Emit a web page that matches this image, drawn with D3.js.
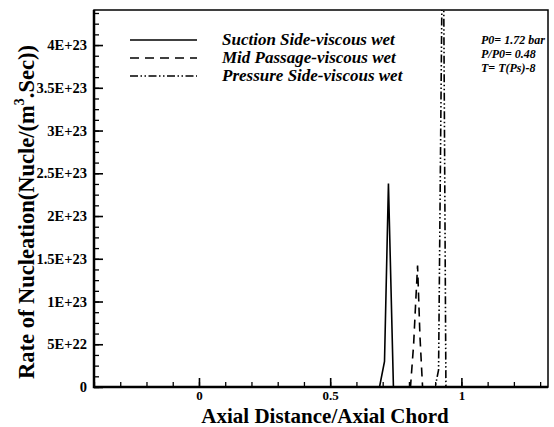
<!DOCTYPE html>
<html><head><meta charset="utf-8">
<script src="https://cdn.jsdelivr.net/npm/d3@7"></script>
<style>body{margin:0;background:#fff}svg{display:block}</style>
</head><body>
<svg id="c" width="554" height="427"></svg>
<script>
// Data (x = axial distance / axial chord, y = nucleation rate)
const suctionX = [-0.4, 0.688, 0.707, 0.722, 0.741, 1.33];
const suctionY = [0, 0, 3.0e22, 2.38e23, 0, 0];
const midX = [-0.4, 0.806, 0.818, 0.826, 0.833, 0.842, 0.852, 1.33];
const midY = [0, 0, 5e22, 1.0e23, 1.42e23, 6e22, 0, 0];
const pressX = [-0.4, 0.900, 0.913, 0.930, 0.941, 1.33];
const pressY = [0, 0, 2.0e22, 6.0e23, 0, 0];
const seriesNames = ["Suction Side-viscous wet", "Mid Passage-viscous wet", "Pressure Side-viscous wet"];
const xTickVals = [0, 0.5, 1];
const xTickLabels = ["0", "0.5", "1"];
const yTickVals = [0, 5e22, 1e23, 1.5e23, 2e23, 2.5e23, 3e23, 3.5e23, 4e23];
const yTickLabels = ["0", "5E+22", "1E+23", "1.5E+23", "2E+23", "2.5E+23", "3E+23", "3.5E+23", "4E+23"];
const notes = ["P0= 1.72 bar", "P/P0= 0.48", "T= T(Ps)-8"];

const L = 94, R = 548, T = 10, B = 387;
const svg = d3.select("#c");
const x = d3.scaleLinear().domain([-0.4, 1.33]).range([L, R]);
const y = d3.scaleLinear().domain([0, 4.41e23]).range([B, T]);
const font = "'Liberation Serif', 'Times New Roman', serif";

svg.append("clipPath").attr("id", "clip").append("rect")
  .attr("x", L).attr("y", T).attr("width", R - L).attr("height", B - T);

const dashes = [null, "9,6", "8,2.5,1.5,2.5,1.5,2.5"];
const series = [[suctionX, suctionY], [midX, midY], [pressX, pressY]];
const line = d3.line().x(d => x(d[0])).y(d => y(d[1]));
const g = svg.append("g").attr("clip-path", "url(#clip)");
series.forEach((s, i) => {
  const pts = s[0].map((v, k) => [v, s[1][k]]);
  g.append("path").attr("d", line(pts)).attr("fill", "none")
    .attr("stroke", "#000").attr("stroke-width", 1.6)
    .attr("stroke-dasharray", dashes[i]);
});

// axes
const xMinor = d3.range(-4, 14).map(v => v / 10);
svg.append("g").attr("transform", `translate(0,${B})`)
  .call(d3.axisBottom(x).tickValues(xMinor).tickSize(-5).tickFormat(""))
  .call(a => a.select(".domain").remove())
  .call(a => a.selectAll("line").attr("stroke-width", 1.3));
const xa = svg.append("g").attr("transform", `translate(0,${B})`)
  .call(d3.axisBottom(x).tickValues(xTickVals).tickSize(-9).tickPadding(4)
    .tickFormat((d, i) => xTickLabels[i]));
xa.select(".domain").remove();
xa.selectAll("line").attr("stroke-width", 1.6);
xa.selectAll("text").style("font-family", font).style("font-weight", "bold")
  .style("font-size", "13px").attr("fill", "#000");

const yMinor = d3.range(0, 36).map(v => v * 1.25e22);
svg.append("g").attr("transform", `translate(${L},0)`)
  .call(d3.axisLeft(y).tickValues(yMinor).tickSize(-5).tickFormat(""))
  .call(a => a.select(".domain").remove())
  .call(a => a.selectAll("line").attr("stroke-width", 1.3));
const ya = svg.append("g").attr("transform", `translate(${L},0)`)
  .call(d3.axisLeft(y).tickValues(yTickVals).tickSize(-9).tickPadding(7)
    .tickFormat((d, i) => yTickLabels[i]));
ya.select(".domain").remove();
ya.selectAll("line").attr("stroke-width", 1.6);
ya.selectAll("text").style("font-family", font).style("font-weight", "bold")
  .style("font-size", "14.5px").attr("fill", "#000");

// frame
svg.append("rect").attr("x", L).attr("y", T).attr("width", R - L).attr("height", B - T)
  .attr("fill", "none").attr("stroke", "#000").attr("stroke-width", 1.5);
svg.append("path").attr("d", `M${L},${T}V${B}H${R}`).attr("fill", "none")
  .attr("stroke", "#000").attr("stroke-width", 2.5);

// titles
svg.append("text").attr("x", 325).attr("y", 422.5).attr("text-anchor", "middle")
  .style("font-family", font).style("font-weight", "bold").style("font-size", "21px")
  .text("Axial Distance/Axial Chord");
const yt = svg.append("text").attr("transform", `translate(34,212) rotate(-90)`)
  .attr("text-anchor", "middle").style("font-family", font).style("font-weight", "bold")
  .style("font-size", "22.5px");
yt.append("tspan").text("Rate of Nucleation(Nucle/(m");
yt.append("tspan").style("font-size", "14px").attr("dy", -10).text("3");
yt.append("tspan").attr("dy", 10).text(".Sec))");

// legend
seriesNames.forEach((n, i) => {
  const yy = 40 + i * 18;
  svg.append("line").attr("x1", 130).attr("x2", 197).attr("y1", yy).attr("y2", yy)
    .attr("stroke", "#000").attr("stroke-width", 1.6).attr("stroke-dasharray", dashes[i]);
  svg.append("text").attr("x", 222).attr("y", yy + 5).style("font-family", font)
    .style("font-weight", "bold").style("font-style", "italic").style("font-size", "17px")
    .text(n);
});
notes.forEach((n, i) => {
  svg.append("text").attr("x", 481).attr("y", 44 + i * 14).style("font-family", font)
    .style("font-weight", "bold").style("font-style", "italic").style("font-size", "12px")
    .text(n);
});
</script>
</body></html>
